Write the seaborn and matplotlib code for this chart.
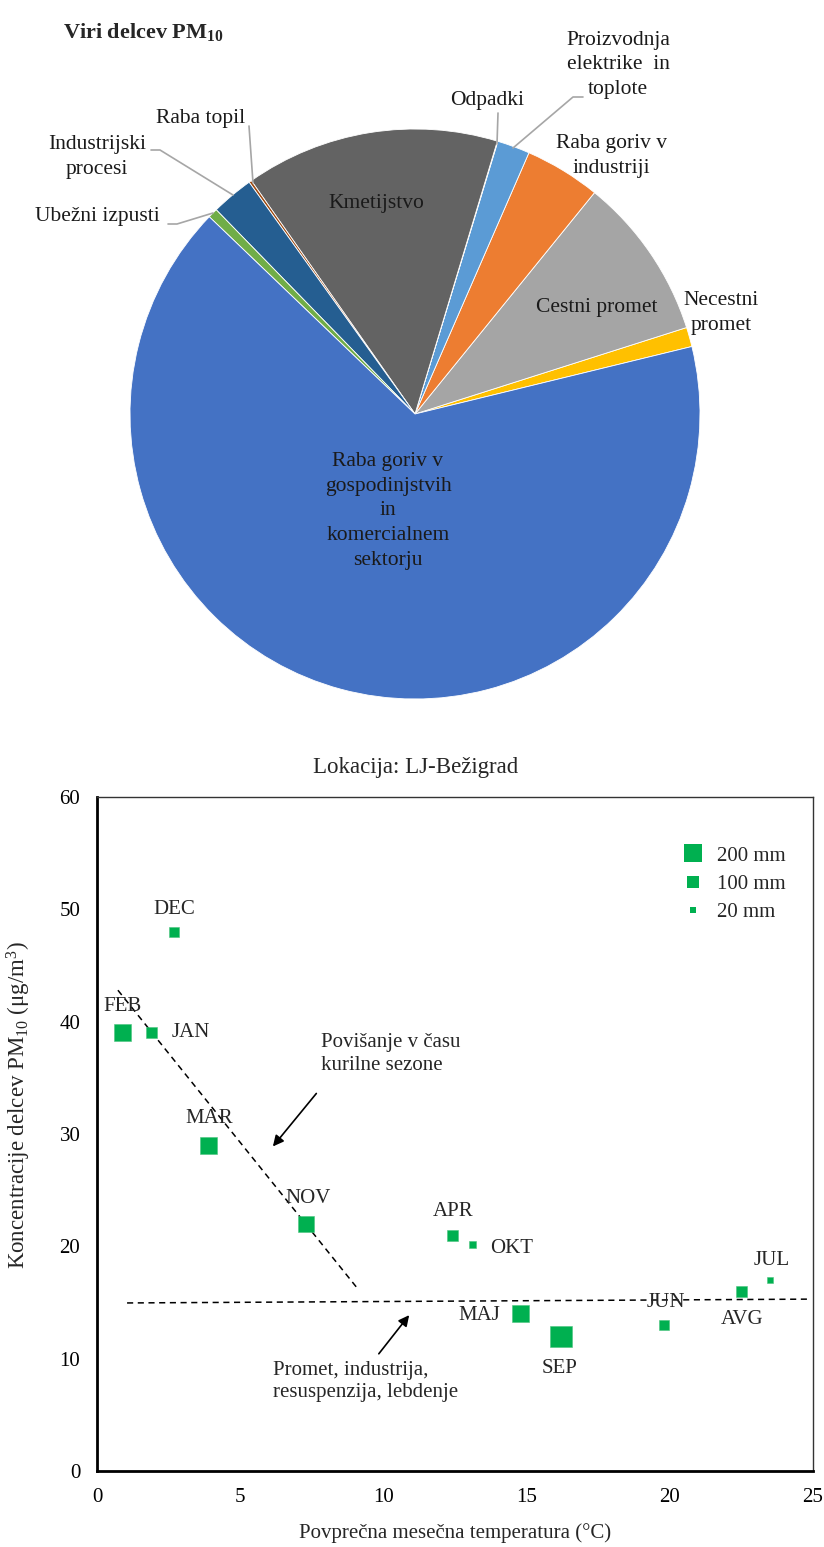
import numpy as np
import pandas as pd
import matplotlib
matplotlib.use("Agg")
import matplotlib.pyplot as plt
from matplotlib.lines import Line2D
from matplotlib.ticker import MultipleLocator
import seaborn as sns

# ---------------- data ----------------
# Pie: PM10 sources (counter-clockwise order starting at the right)
pie_labels = ["Necestni\npromet", "Cestni promet", "Raba goriv v\nindustriji",
              "Proizvodnja\nelektrike  in\ntoplote", "Odpadki", "Kmetijstvo",
              "Raba topil", "Industrijski\nprocesi", "Ubežni izpusti",
              "Raba goriv v\ngospodinjstvih\nin\nkomercialnem\nsektorju"]
pie_values = [1.1, 9.25, 4.3, 1.85, 0.03, 14.4, 0.15, 2.4, 0.55, 65.97]
pie_colors = ["#FFC000", "#A5A5A5", "#ED7D31", "#5B9BD5", "#997300", "#636363",
              "#9E480E", "#255E91", "#70AD47", "#4472C4"]

# Scatter: monthly means, LJ-Bezigrad
months = ["JAN", "FEB", "MAR", "APR", "MAJ", "JUN", "JUL", "AVG", "SEP", "OKT", "NOV", "DEC"]
temperature = [1.9, 0.9, 3.9, 12.4, 14.8, 19.8, 23.5, 22.5, 16.2, 13.1, 7.3, 2.7]
pm10 = [39, 39, 29, 21, 14, 13, 17, 16, 12, 20.2, 22, 48]
precipitation = [85, 200, 190, 85, 205, 80, 25, 85, 310, 35, 190, 65]
legend_precip = [200, 100, 20]
heating_trend_x = [0.73, 9.08]
heating_trend_y = [42.8, 16.3]
base_trend_x = [1.05, 24.9]
base_trend_y = [14.96, 15.3]

# ---------------- style ----------------
sns.set_style("white")
plt.rcParams["font.family"] = ["Liberation Serif", "DejaVu Serif"]
plt.rcParams["mathtext.fontset"] = "custom"
plt.rcParams["mathtext.rm"] = "Liberation Serif"
plt.rcParams["mathtext.it"] = "Liberation Serif:italic"
plt.rcParams["mathtext.bf"] = "Liberation Serif:bold"

W, H = 824, 1547
fig = plt.figure(figsize=(W / 100, H / 100), dpi=100)

# ---------------- pie ----------------
cx, cy, R = 415, 414, 285
axp = fig.add_axes([(cx - R) / W, 1 - (cy + R) / H, 2 * R / W, 2 * R / H])
axp.pie(pie_values, colors=pie_colors, startangle=13.7, counterclock=True,
        wedgeprops=dict(edgecolor="white", linewidth=0.6))
axp.set_xlim(-1, 1)
axp.set_ylim(-1, 1)
axp.set_aspect("equal")
axp.axis("off")


def P(px, py):
    return ((px - cx) / R, (cy - py) / R)


lab_fs = 15.5
pie_text_pos = {
    "Necestni\npromet": (721, 313),
    "Cestni promet": (597, 308),
    "Raba goriv v\nindustriji": (611, 156),
    "Proizvodnja\nelektrike  in\ntoplote": (618, 65),
    "Odpadki": (487, 101),
    "Kmetijstvo": (376, 204),
    "Raba topil": (201, 119),
    "Industrijski\nprocesi": (97, 157),
    "Ubežni izpusti": (97, 217),
    "Raba goriv v\ngospodinjstvih\nin\nkomercialnem\nsektorju": (388, 511),
}
for lab in pie_labels:
    x, y = P(*pie_text_pos[lab])
    axp.text(x, y, lab, ha="center", va="center", fontsize=lab_fs,
             linespacing=1.42, clip_on=False, color="#1a1a1a")

leaders = [
    [(249, 126), (253, 183)],
    [(151, 150), (160, 150), (233, 195)],
    [(168, 224), (177, 224), (213, 213)],
    [(498, 113), (497, 144)],
    [(583, 97), (573, 97), (513, 148)],
]
for pts in leaders:
    xs, ys = zip(*[P(*p) for p in pts])
    axp.plot(xs, ys, color="#a6a6a6", lw=1.2, clip_on=False)

fig.text(63 / W, 1 - 32 / H, r"Viri delcev PM$_{\mathbf{10}}$", fontsize=16,
         fontweight="bold", ha="left", va="center")

# ---------------- scatter ----------------
x0, x1, y0, y1 = 97, 813, 797, 1471
axs = fig.add_axes([x0 / W, 1 - y1 / H, (x1 - x0) / W, (y1 - y0) / H])
df = pd.DataFrame({"month": months, "temp": temperature, "pm10": pm10,
                   "precip": precipitation})
s_per_mm = 0.75
pmax = 400
sns.scatterplot(data=df, x="temp", y="pm10", size="precip",
                sizes=(0, s_per_mm * pmax), size_norm=(0, pmax), marker="s",
                color="#00B050", edgecolor="#4cc47e", linewidth=0.4,
                legend=False, ax=axs, zorder=3)

axs.plot(heating_trend_x, heating_trend_y, ls=(0, (4, 3)), color="black", lw=1.1)
axs.plot(base_trend_x, base_trend_y, ls=(0, (4, 3)), color="black", lw=1.1)

fs = 15
offsets = {"DEC": (0, 22, "center"), "FEB": (0, 26, "center"), "JAN": (20, 0, "left"),
           "MAR": (0, 27, "center"), "NOV": (2, 25, "center"), "APR": (1, 24, "center"),
           "OKT": (18, -4, "left"), "MAJ": (-21, -2, "right"), "SEP": (-1, -32, "center"),
           "JUN": (2, 22, "center"), "AVG": (1, -28, "center"), "JUL": (2, 20, "center")}
for m, t, v in zip(months, temperature, pm10):
    dx, dy, ha = offsets[m]
    axs.annotate(m, (t, v), xytext=(dx, dy), textcoords="offset pixels",
                 ha=ha, va="center", fontsize=fs, zorder=4)

axs.annotate("", xy=(6.08, 28.7), xytext=(7.72, 33.8),
             arrowprops=dict(arrowstyle="-|>", color="black", lw=1.2, mutation_scale=16))
axs.annotate("", xy=(10.96, 14.07), xytext=(9.78, 10.24),
             arrowprops=dict(arrowstyle="-|>", color="black", lw=1.2, mutation_scale=16))
axs.text(7.82, 37.1, "Povišanje v času\nkurilne sezone", ha="left", va="center",
         fontsize=fs, linespacing=1.3)
axs.text(6.15, 8.0, "Promet, industrija,\nresuspenzija, lebdenje", ha="left",
         va="center", fontsize=fs, linespacing=1.2)

axs.set_xlim(0, 25)
axs.set_ylim(0, 60)
axs.xaxis.set_major_locator(MultipleLocator(5))
axs.xaxis.set_minor_locator(MultipleLocator(1))
axs.yaxis.set_major_locator(MultipleLocator(10))
axs.yaxis.set_minor_locator(MultipleLocator(2))
axs.tick_params(which="both", direction="in", colors="black", labelsize=15)
axs.tick_params(axis="x", which="major", length=7, width=1.2, pad=12)
axs.tick_params(axis="x", which="minor", length=4, width=1.0)
axs.tick_params(axis="y", which="major", length=5, width=1.2, pad=12)
axs.tick_params(axis="y", which="minor", length=5, width=1.0)
for sp in ["left", "bottom"]:
    axs.spines[sp].set_linewidth(2.0)
    axs.spines[sp].set_color("black")
for sp in ["top", "right"]:
    axs.spines[sp].set_linewidth(1.0)
    axs.spines[sp].set_color("#333333")
axs.set_xlabel("Povprečna mesečna temperatura (°C)", fontsize=15, labelpad=12)
axs.set_ylabel(r"Koncentracije delcev PM$_{10}$ (μg/m$^3$)", fontsize=16.5)
axs.yaxis.set_label_coords((33 - x0) / (x1 - x0), (y1 - 1105) / (y1 - y0))

fig.text(416 / W, 1 - 767 / H, "Lokacija: LJ-Bežigrad", ha="center", va="center",
         fontsize=16.5)

handles = [Line2D([], [], marker="s", ls="none", color="#00B050",
                  markersize=np.sqrt(s_per_mm * p), markeredgewidth=0)
           for p in legend_precip]
axs.legend(handles, [f"{p} mm" for p in legend_precip], loc="upper left",
           bbox_to_anchor=((683 - x0) / (x1 - x0), (y1 - 846) / (y1 - y0)),
           frameon=False, fontsize=15, handlelength=1.0, handletextpad=0.65,
           labelspacing=0.42, borderpad=0, borderaxespad=0)

fig.savefig("out.png", dpi=100)
